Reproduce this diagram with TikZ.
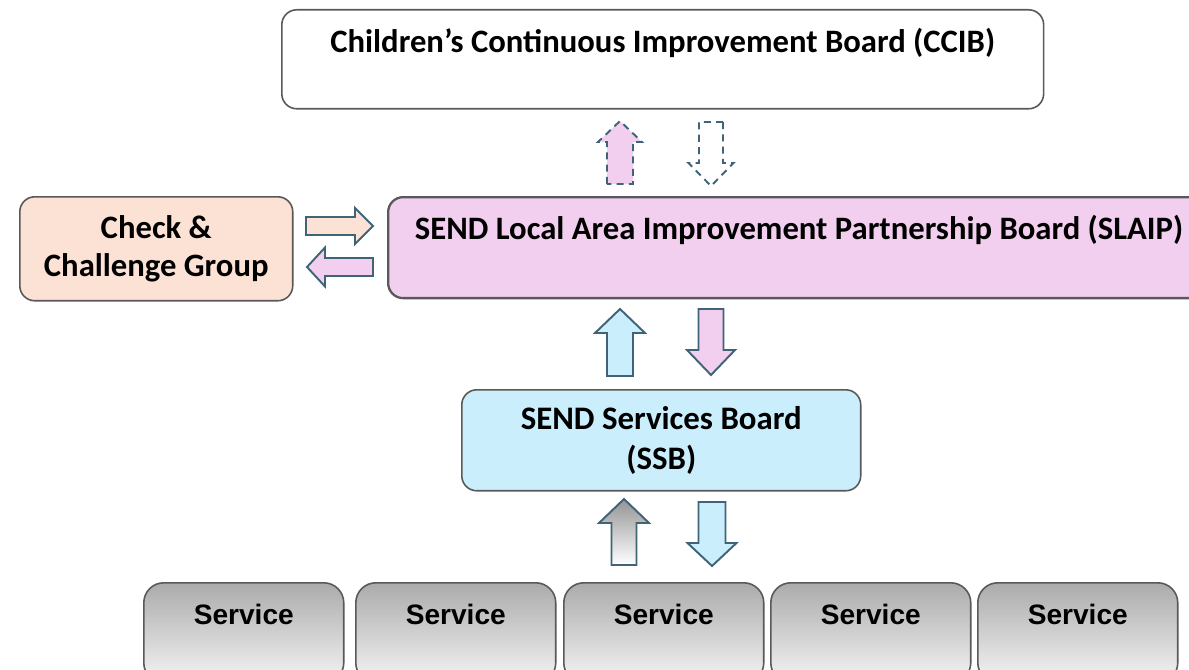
\documentclass[tikz,border=0pt]{standalone}
\usepackage{fontspec}
\setmainfont{Carlito}
\newfontfamily\servfont{Liberation Sans}
\usetikzlibrary{positioning}
\definecolor{pinkfill}{HTML}{F2CEEF}
\definecolor{peachfill}{HTML}{FBE2D5}
\definecolor{bluefill}{HTML}{CAEEFB}
\definecolor{boxgray}{HTML}{595959}
\definecolor{arrowteal}{HTML}{3F6478}
\tikzset{
  board/.style={draw=boxgray, line width=0.9pt, rounded corners=0.3cm, inner sep=0pt,
    align=center, font=\bfseries\fontsize{18.6}{21.5}\selectfont},
  service/.style={board, rounded corners=0.4cm, top color=black!33, bottom color=black!4,
    minimum width=4cm, text height=0.84cm, text depth=1.16cm,
    font=\servfont\bfseries\fontsize{16}{19}\selectfont},
  flow/.style={draw=arrowteal, line width=1.1pt, line join=miter},
  dashflow/.style={flow, dash pattern=on 4pt off 3pt},
  pics/blockarrow/.style n args={4}{code={
    \path[pic actions] (0,-#2) -- (#1-#4,-#2) -- (#1-#4,-#3) -- (#1,0)
      -- (#1-#4,#3) -- (#1-#4,#2) -- (0,#2) -- cycle;
  }}
}
\begin{document}
\begin{tikzpicture}[x=0.02cm, y=-0.02cm]
  \useasboundingbox (0,0) rectangle (1189,669);
  \clip (0,0) rectangle (1189,669);
  % boards
  \node[board, fill=white, anchor=north west, minimum width=15.24cm,
    text height=0.86cm, text depth=1.12cm] (ccib) at (281,9)
    {Children's Continuous Improvement Board (CCIB)};
  \node[board, fill=peachfill, anchor=north west, minimum width=5.46cm,
    minimum height=2.08cm] (check) at (19,196) {Check \&\\Challenge Group};
  \node[board, fill=pinkfill, line width=1.3pt, anchor=north west, minimum width=16.44cm,
    text height=0.84cm, text depth=1.18cm] (slaip) at (387,196)
    {SEND Local Area Improvement Partnership Board (SLAIP)};
  \node[board, fill=bluefill, anchor=north west, minimum width=7.98cm,
    minimum height=2.02cm, font=\bfseries\fontsize{18.7}{22.7}\selectfont] (ssb) at (461,389)
    {SEND Services Board\\(SSB)};
  % services
  \foreach \x [count=\i] in {143,355,563,770,977}
    \node[service, anchor=north west] (serv\i) at (\x,582) {Service};
  % block arrows
  \pic[dashflow, fill=pinkfill, rotate=90] at (620,184) {blockarrow={63}{13}{22}{21}};
  \pic[dashflow, fill=white, rotate=-90] at (711,122) {blockarrow={64}{12}{22.5}{23}};
  \pic[flow, fill=peachfill] at (306,226) {blockarrow={67}{9}{18}{18}};
  \pic[flow, fill=pinkfill, rotate=180] at (373,267) {blockarrow={66}{9}{19.5}{18}};
  \pic[flow, fill=bluefill, rotate=90] at (620,376) {blockarrow={67}{13}{25}{24}};
  \pic[flow, fill=pinkfill, rotate=-90] at (711,309) {blockarrow={66}{12.5}{24}{25}};
  \pic[flow, top color=black!42, bottom color=white, rotate=90] at (624,565) {blockarrow={66}{12.5}{25}{24}};
  \pic[flow, fill=bluefill, rotate=-90] at (712,502) {blockarrow={64}{13.5}{24.5}{23}};
\end{tikzpicture}
\end{document}
